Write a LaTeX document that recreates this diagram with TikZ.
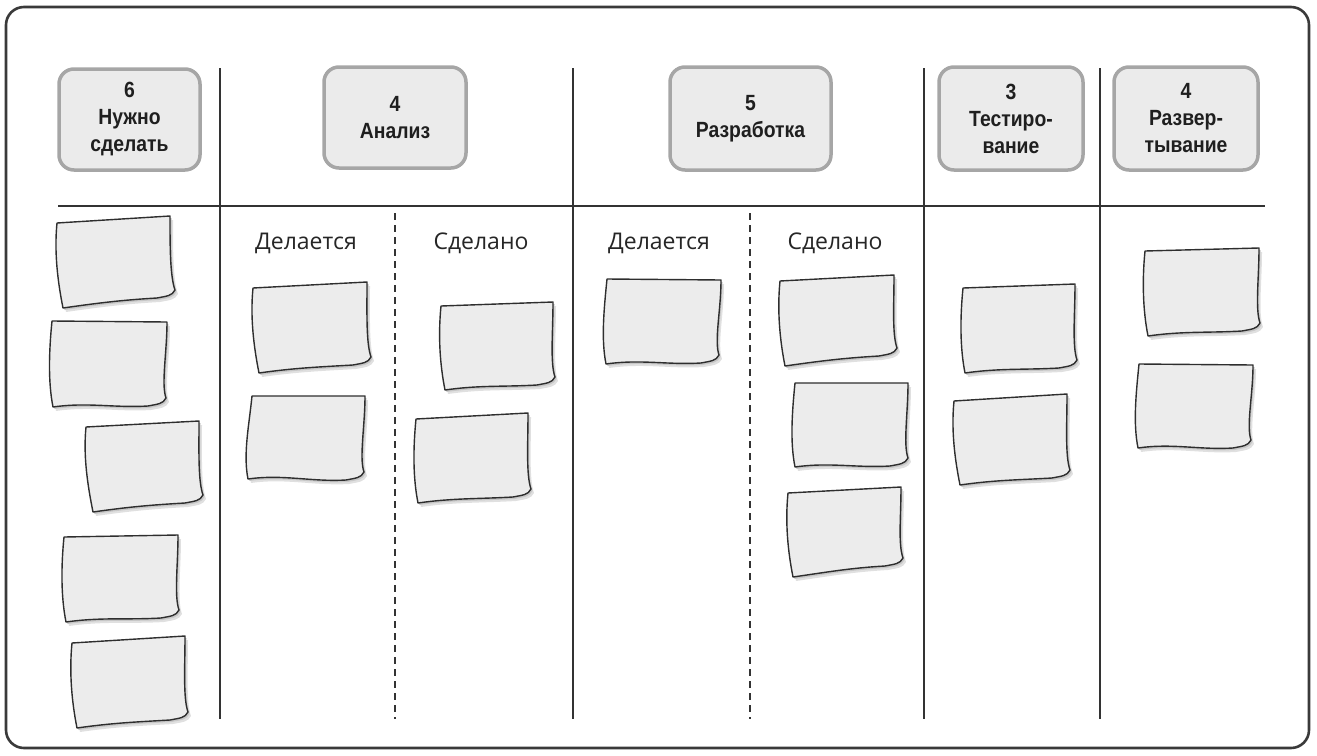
\documentclass[tikz,border=0pt]{standalone}
\usepackage{fontspec}
\setmainfont{Open Sans}
\newfontfamily\hdrfont[FakeStretch=0.88]{Liberation Sans Bold}
\usetikzlibrary{calc}
\definecolor{notefill}{HTML}{ECECEC}
\definecolor{noteline}{HTML}{2E2E2E}
\definecolor{hdrfill}{HTML}{EBEBEB}
\definecolor{hdrline}{HTML}{A6A6A6}
\definecolor{frameline}{HTML}{3A3A3A}
\definecolor{gridline}{HTML}{333333}
\newcommand\notepath[8]{(#1,#2) -- (#3,#4) .. controls +(0,30) and +(-5,-14) .. (#5,#6) .. controls +(-3,6) and +(10,-2) .. ++(-18,8) .. controls +(-35,2) and +(35,-5) .. (#7,#8) .. controls +(-5,-25) and +(-3,30) .. (#1,#2) -- cycle}
\newcommand\sticky[9]{%
  \fill[black!12] [shift={(3,4)}] \notepath{#2}{#3}{#4}{#5}{#6}{#7}{#8}{#9};
  \fill[black!22] [shift={(1.5,2)}] \notepath{#2}{#3}{#4}{#5}{#6}{#7}{#8}{#9};
  \draw[notestyle] \notepath{#2}{#3}{#4}{#5}{#6}{#7}{#8}{#9};
  \coordinate (#1) at (#2,#3);}
\tikzset{
  notestyle/.style={fill=notefill, draw=noteline, line width=1.4pt, line join=round},
  hdrbox/.style={draw=hdrline, fill=hdrfill, line width=3.5pt, rounded corners=15pt,
    align=center, inner sep=0pt, font=\hdrfont\fontsize{22}{27}\selectfont, text=black!88},
  sublabel/.style={font=\fontsize{23}{26}\selectfont, text=black!85, inner sep=0pt},
  gridrule/.style={draw=gridline, line width=1.3pt},
  dashrule/.style={draw=gridline, line width=1.3pt, dash pattern=on 7pt off 5pt},
}
\begin{document}
\begin{tikzpicture}[x=1pt,y=-1pt]
\useasboundingbox (0,0) rectangle (1317,755);
% frame
\draw[frameline, line width=2.6pt, rounded corners=18pt] (6,7) rectangle (1309,748);
% grid
\coordinate (h1) at (58,206); \coordinate (h2) at (1265,206);
\draw[gridrule] (h1) -- (h2);
\foreach \xx/\nm in {220/v1,573/v2,924/v3,1100/v4}{
  \coordinate (\nm t) at (\xx,68); \coordinate (\nm b) at (\xx,719);
  \draw[gridrule] (\nm t) -- (\nm b);}
\foreach \xx/\nm in {395/d1,750/d2}{
  \coordinate (\nm t) at (\xx,213); \coordinate (\nm b) at (\xx,719);
  \draw[dashrule] (\nm t) -- (\nm b);}
% headers
\node[hdrbox, minimum width=141pt, minimum height=101pt] (todo) at (129.5,119.5) {6\\Нужно\\сделать};
\node[hdrbox, minimum width=142pt, minimum height=101pt] (anal) at (395,117.5) {4\\Анализ};
\node[hdrbox, minimum width=161pt, minimum height=103pt] (dev) at (750.5,118.5) {5\\Разработка};
\node[hdrbox, minimum width=144pt, minimum height=103pt] (test) at (1011,118.5) {3\\Тестиро-\\вание};
\node[hdrbox, minimum width=144pt, minimum height=103pt] (depl) at (1186,118.5) {4\\Развер-\\тывание};
% sub-labels
\node[sublabel] (ad) at (306,243) {Делается};
\node[sublabel] (as) at (481,243) {Сделано};
\node[sublabel] (dd) at (659,243) {Делается};
\node[sublabel] (ds) at (835,243) {Сделано};
% sticky notes: TL, TR, BR(curl), BL
\sticky{n1}{57}{223}{170}{216}{175}{290}{63}{308}
\sticky{n2}{52}{321}{167}{322}{166}{398}{53}{407}
\sticky{n3}{86}{427}{199}{421}{203}{495}{93}{512}
\sticky{n4}{64}{537}{178}{535}{179}{610}{66}{622}
\sticky{n5}{72}{643}{185}{636}{188}{712}{77}{728}
\sticky{n6}{253}{288}{367}{282}{371}{357}{259}{373}
\sticky{n7}{252}{396}{365}{396}{364}{472}{248}{479}
\sticky{n8}{441}{306}{553}{302}{555}{377}{445}{390}
\sticky{n9}{416}{419}{528}{413}{531}{489}{418}{503}
\sticky{n10}{607}{279}{721}{280}{719}{355}{606}{364}
\sticky{n11}{780}{281}{894}{275}{897}{348}{785}{366}
\sticky{n12}{795}{383}{908}{383}{908}{458}{795}{467}
\sticky{n13}{788}{493}{901}{487}{903}{558}{793}{577}
\sticky{n14}{963}{288}{1075}{284}{1077}{360}{965}{373}
\sticky{n15}{954}{401}{1067}{394}{1070}{470}{960}{485}
\sticky{n16}{1145}{251}{1259}{248}{1260}{323}{1148}{336}
\sticky{n17}{1139}{364}{1253}{365}{1251}{440}{1138}{448}
\end{tikzpicture}
\end{document}
